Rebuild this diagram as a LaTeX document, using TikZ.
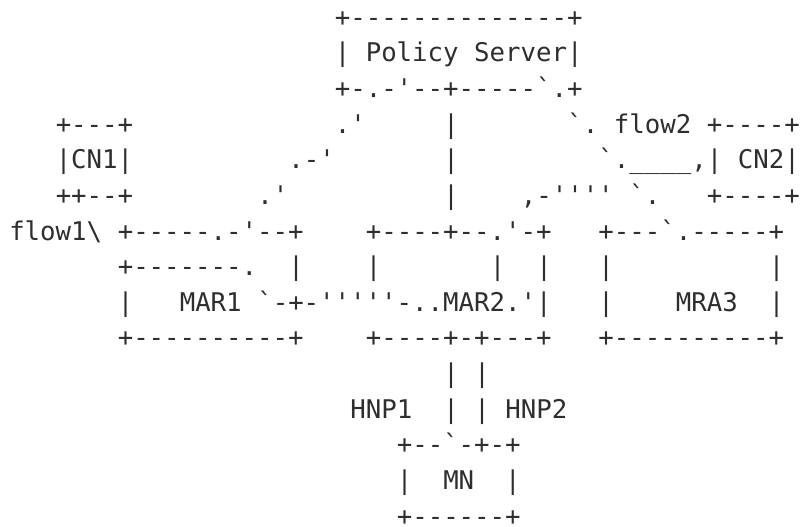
\documentclass[tikz,border=0pt]{standalone}
\usepackage{fontspec}
\setmonofont{DejaVu Sans Mono}
\tikzset{ascii/.style={inner sep=0pt, outer sep=0pt, anchor=base west, text=black!82,
  text depth=0pt, font=\ttfamily\fontsize{25.745}{30}\selectfont}}
% #1 name, #2 column, #3 row, #4 text
\newcommand\putseg[4]{\node[ascii] (#1) at ({9.25+15.5*#2},{-(26.2+(#3-1)*35.64)}) {#4};}
\begin{document}
\begin{tikzpicture}[x=1pt,y=1pt]
\useasboundingbox (0,0) rectangle (800,-527);
% Policy Server
\putseg{ps1}{21}{1}{+--------------+}
\putseg{ps2}{21}{2}{|~Policy~Server|}
\putseg{ps3}{21}{3}{+-.-'--+-----`.+}
% row 4
\putseg{cna}{3}{4}{+---+}
\putseg{la}{21}{4}{.'}
\putseg{lb}{28}{4}{|}
\putseg{lc}{36}{4}{`.}
\putseg{flowtwo}{39}{4}{flow2}
\putseg{cnd}{45}{4}{+----+}
% row 5
\putseg{cnb}{3}{5}{|CN1|}
\putseg{ld}{18}{5}{.-'}
\putseg{le}{28}{5}{|}
\putseg{lf}{38}{5}{`.\_\_\_\_,}
\putseg{cne}{45}{5}{|~CN2|}
% row 6
\putseg{cnc}{3}{6}{++--+}
\putseg{lg}{16}{6}{.'}
\putseg{lh}{28}{6}{|}
\putseg{li}{33}{6}{,-''''}
\putseg{lj}{40}{6}{`.}
\putseg{cnf}{45}{6}{+----+}
% row 7
\putseg{flowone}{0}{7}{flow1\textbackslash}
\putseg{ma}{7}{7}{+-----.-'--+}
\putseg{mb}{23}{7}{+----+--.'-+}
\putseg{mc}{38}{7}{+---`.-----+}
% row 8
\putseg{md}{7}{8}{+-------.}
\putseg{me}{18}{8}{|}
\putseg{mf}{23}{8}{|}
\putseg{mg}{31}{8}{|}
\putseg{mh}{34}{8}{|}
\putseg{mi}{38}{8}{|}
\putseg{mj}{49}{8}{|}
% row 9
\putseg{mk}{7}{9}{|}
\putseg{marone}{11}{9}{MAR1}
\putseg{lk}{16}{9}{`-+-'''''-..MAR2.'|}
\putseg{ml}{38}{9}{|}
\putseg{mrathree}{43}{9}{MRA3}
\putseg{mm}{49}{9}{|}
% row 10
\putseg{mn}{7}{10}{+----------+}
\putseg{mo}{23}{10}{+----+-+---+}
\putseg{mp}{38}{10}{+----------+}
% row 11
\putseg{ha}{28}{11}{|}
\putseg{hb}{30}{11}{|}
% row 12
\putseg{hnpone}{22}{12}{HNP1}
\putseg{hc}{28}{12}{|}
\putseg{hd}{30}{12}{|}
\putseg{hnptwo}{32}{12}{HNP2}
% MN
\putseg{mna}{25}{13}{+--`-+-+}
\putseg{mnb}{25}{14}{|~~MN~~|}
\putseg{mnc}{25}{15}{+------+}
\end{tikzpicture}
\end{document}
